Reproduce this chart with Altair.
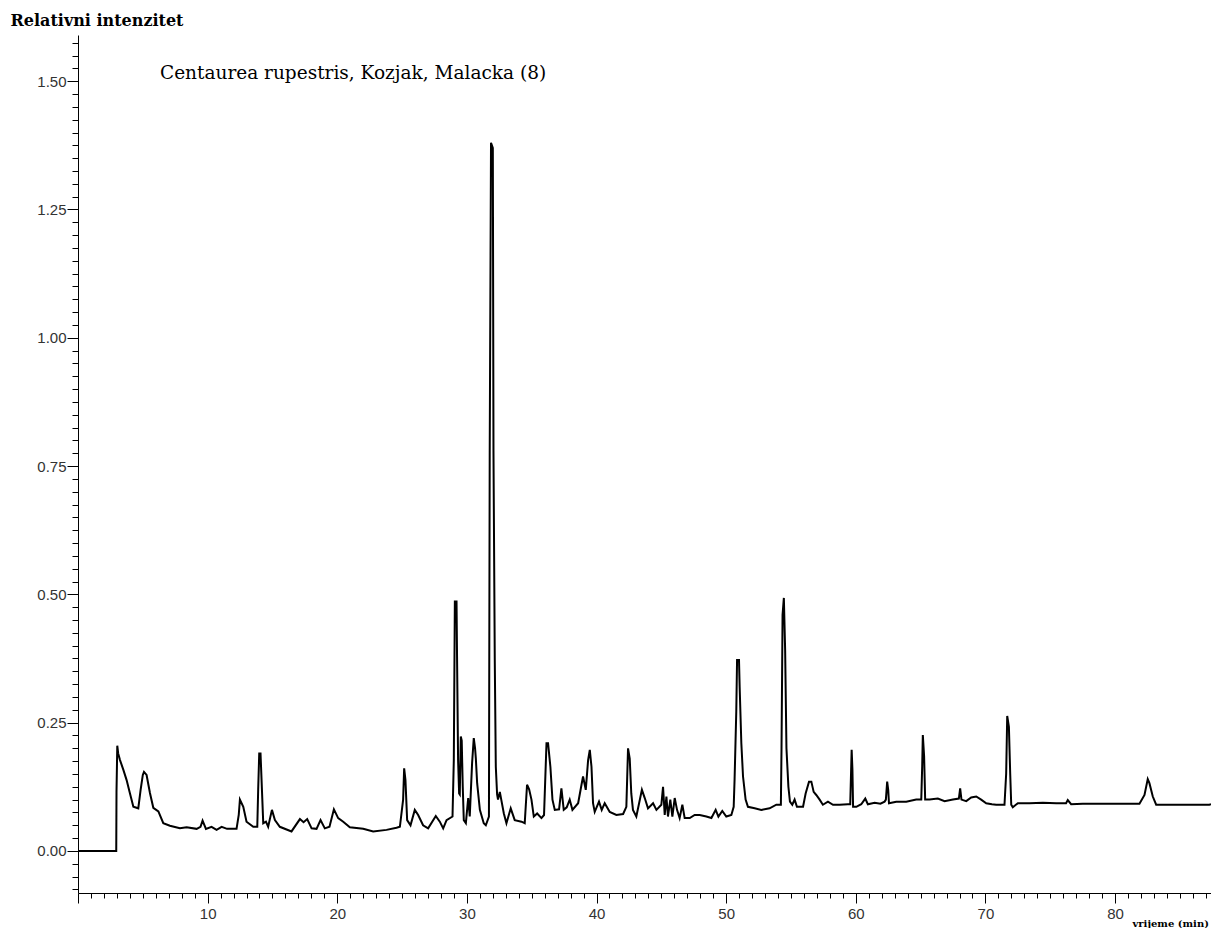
import altair as alt
import pandas as pd

# retention time (min)
time_min = [
    0.0, 2.95, 2.97, 3.03, 3.1, 3.24, 3.5, 3.75, 4.0, 4.27, 4.65, 4.83, 5.0, 5.09, 5.29, 5.55, 5.81,
    6.2, 6.58, 7.09, 7.86, 8.38, 9.15, 9.45, 9.61, 9.87, 10.3, 10.69, 11.08, 11.5, 12.23, 12.4, 12.49,
    12.75, 13.0, 13.52, 13.83, 13.9, 13.98, 14.08, 14.16, 14.29, 14.5, 14.67, 14.96, 15.19, 15.57,
    16.47, 17.12, 17.4, 17.68, 18.02, 18.4, 18.71, 19.04, 19.4, 19.74, 20.07, 20.46, 20.97, 22.0,
    22.77, 23.8, 24.57, 24.83, 25.08, 25.16, 25.26, 25.39, 25.65, 25.98, 26.24, 26.62, 27.01, 27.6,
    27.91, 28.17, 28.43, 28.89, 28.99, 29.07, 29.2, 29.24, 29.32, 29.4, 29.45, 29.53, 29.6, 29.68,
    29.76, 29.92, 30.1, 30.22, 30.4, 30.53, 30.63, 30.69, 30.79, 31.0, 31.3, 31.46, 31.7, 31.76,
    31.86, 32.0, 32.05, 32.15, 32.23, 32.33, 32.4, 32.54, 32.65, 32.85, 33.05, 33.38, 33.69, 34.21,
    34.46, 34.64, 34.8, 34.98, 35.16, 35.42, 35.75, 35.95, 36.14, 36.26, 36.44, 36.6, 36.78, 37.11,
    37.29, 37.47, 37.7, 37.93, 38.14, 38.58, 38.84, 38.96, 39.17, 39.35, 39.48, 39.61, 39.73, 39.86,
    40.19, 40.4, 40.63, 41.02, 41.53, 42.05, 42.3, 42.43, 42.56, 42.68, 42.81, 43.07, 43.5, 43.72,
    43.97, 44.36, 44.62, 45.0, 45.13, 45.26, 45.39, 45.51, 45.69, 45.85, 46.03, 46.21, 46.41, 46.62,
    46.8, 47.19, 47.57, 47.96, 48.47, 48.86, 49.19, 49.4, 49.7, 50.01, 50.4, 50.58, 50.65, 50.78,
    50.84, 50.99, 51.04, 51.17, 51.3, 51.5, 51.68, 52.2, 52.71, 53.35, 53.87, 54.22, 54.27, 54.35,
    54.45, 54.55, 54.65, 54.8, 54.92, 55.1, 55.28, 55.46, 55.93, 56.13, 56.39, 56.57, 56.75, 56.95,
    57.21, 57.46, 57.85, 58.24, 58.75, 59.39, 59.57, 59.68, 59.74, 59.79, 60.04, 60.42, 60.73, 60.93,
    61.45, 61.9, 62.22, 62.32, 62.42, 62.5, 62.56, 63.12, 63.89, 64.66, 65.05, 65.12, 65.17, 65.27,
    65.35, 65.69, 66.33, 66.85, 67.49, 67.95, 68.05, 68.15, 68.52, 68.9, 69.29, 69.67, 70.06, 70.5,
    70.83, 71.39, 71.47, 71.6, 71.68, 71.81, 71.91, 71.99, 72.11, 72.5, 73.4, 74.43, 75.46, 76.22,
    76.35, 76.61, 77.51, 78.41, 79.57, 80.85, 81.88, 82.27, 82.52, 82.65, 82.91, 83.17, 83.94, 85.22,
    86.5, 87.27, 87.4,
]

# relative intensity
intensity = [
    0.0, 0.0, 0.115, 0.205, 0.19, 0.177, 0.158, 0.138, 0.113, 0.086, 0.083, 0.119, 0.148, 0.154, 0.148,
    0.113, 0.084, 0.077, 0.054, 0.049, 0.044, 0.046, 0.043, 0.047, 0.059, 0.043, 0.047, 0.041, 0.047,
    0.043, 0.043, 0.07, 0.1, 0.086, 0.057, 0.047, 0.047, 0.12, 0.19, 0.19, 0.138, 0.054, 0.057, 0.047,
    0.08, 0.06, 0.047, 0.038, 0.062, 0.056, 0.062, 0.044, 0.043, 0.06, 0.044, 0.047, 0.081, 0.064,
    0.057, 0.046, 0.043, 0.038, 0.041, 0.045, 0.047, 0.1, 0.161, 0.138, 0.06, 0.05, 0.08, 0.07, 0.05,
    0.044, 0.068, 0.057, 0.044, 0.06, 0.067, 0.177, 0.486, 0.486, 0.379, 0.177, 0.112, 0.11, 0.223,
    0.215, 0.125, 0.06, 0.054, 0.103, 0.067, 0.171, 0.22, 0.2, 0.18, 0.132, 0.08, 0.054, 0.05, 0.067,
    0.78, 1.38, 1.37, 0.78, 0.372, 0.164, 0.11, 0.1, 0.115, 0.1, 0.073, 0.054, 0.083, 0.06, 0.057,
    0.054, 0.129, 0.12, 0.1, 0.067, 0.073, 0.064, 0.07, 0.21, 0.21, 0.164, 0.1, 0.08, 0.081, 0.122,
    0.08, 0.085, 0.1, 0.08, 0.093, 0.129, 0.145, 0.119, 0.177, 0.197, 0.164, 0.093, 0.076, 0.096,
    0.08, 0.093, 0.076, 0.07, 0.072, 0.086, 0.2, 0.18, 0.112, 0.08, 0.067, 0.119, 0.103, 0.083, 0.093,
    0.08, 0.09, 0.125, 0.07, 0.106, 0.067, 0.1, 0.067, 0.103, 0.08, 0.064, 0.09, 0.064, 0.064, 0.07,
    0.07, 0.067, 0.064, 0.08, 0.067, 0.078, 0.067, 0.07, 0.086, 0.14, 0.272, 0.372, 0.372, 0.32, 0.21,
    0.145, 0.1, 0.086, 0.083, 0.08, 0.083, 0.09, 0.09, 0.2, 0.46, 0.493, 0.39, 0.2, 0.125, 0.096, 0.09,
    0.1, 0.086, 0.086, 0.112, 0.135, 0.135, 0.115, 0.109, 0.1, 0.09, 0.096, 0.09, 0.09, 0.091, 0.091,
    0.197, 0.158, 0.086, 0.086, 0.091, 0.102, 0.091, 0.094, 0.092, 0.096, 0.1, 0.135, 0.119, 0.093,
    0.096, 0.096, 0.1, 0.1, 0.164, 0.226, 0.184, 0.1, 0.1, 0.102, 0.097, 0.1, 0.102, 0.122, 0.1, 0.097,
    0.104, 0.106, 0.1, 0.093, 0.091, 0.09, 0.09, 0.09, 0.151, 0.263, 0.242, 0.151, 0.09, 0.085, 0.093,
    0.093, 0.094, 0.093, 0.093, 0.099, 0.091, 0.092, 0.092, 0.092, 0.092, 0.092, 0.109, 0.14, 0.132,
    0.106, 0.09, 0.09, 0.09, 0.09, 0.09, 0.091,
]

x_tick_values = list(range(0, 88))
y_tick_values = [round(-0.075 + 0.025 * i, 3) for i in range(67)]

df = pd.DataFrame({"t": time_min, "v": intensity})

label_font = "Liberation Sans"
serif = "DejaVu Serif"

x_axis = alt.Axis(
    values=x_tick_values,
    labelExpr="(datum.value % 10 == 0 && datum.value > 0) ? format(datum.value, 'd') : ''",
    labelOverlap=False,
    labelFlush=False,
    grid=False,
    domainColor="black",
    tickColor="black",
    tickSize={"condition": {"test": "datum.value % 10 == 0", "value": 10}, "value": 5},
    labelFont=label_font,
    labelFontSize=15,
    labelColor="#333333",
    labelPadding=3,
    title="vrijeme (min)",
    titleFont=serif,
    titleFontSize=10,
    titleFontWeight="bold",
    titleColor="black",
    titleAlign="left",
    titleBaseline="alphabetic",
    titleAnchor="start",
    titleX=1054,
    titleY=33,
)

y_axis = alt.Axis(
    values=y_tick_values,
    labelExpr="abs(datum.value * 4 - round(datum.value * 4)) < 0.001 ? format(datum.value, '.2f') : ''",
    labelOverlap=False,
    labelFlush=False,
    grid=False,
    domainColor="black",
    tickColor="black",
    tickSize={"condition": {"test": "abs(datum.value * 4 - round(datum.value * 4)) < 0.001", "value": 11}, "value": 6},
    labelFont=label_font,
    labelFontSize=15,
    labelColor="#333333",
    labelPadding=1,
    title="Relativni intenzitet",
    titleFont=serif,
    titleFontSize=16,
    titleFontWeight="bold",
    titleColor="black",
    titleAngle=0,
    titleAlign="left",
    titleBaseline="alphabetic",
    titleX=-68,
    titleY=-10,
)

chart = (
    alt.Chart(df)
    .mark_line(color="black", strokeWidth=2)
    .encode(
        x=alt.X("t:Q", scale=alt.Scale(domain=[0, 87.4], nice=False, zero=False), axis=x_axis),
        y=alt.Y("v:Q", scale=alt.Scale(domain=[-0.082, 1.59], nice=False, zero=False), axis=y_axis),
    )
    .properties(
        width=1133,
        height=858,
        background="white",
        autosize=alt.AutoSizeParams(type="none"),
        padding={"left": 70, "top": 27, "right": 0, "bottom": 35},
        title=alt.TitleParams(
            text="Centaurea rupestris, Kozjak, Malacka (8)",
            anchor="start",
            frame="group",
            orient="top",
            offset=0,
            dx=82,
            dy=85,
            baseline="alphabetic",
            font=serif,
            fontSize=18.5,
            fontWeight="normal",
            color="black",
        ),
    )
    .configure_view(stroke="transparent", strokeWidth=0)
)

chart.save("out.html", embed_options={"renderer": "svg", "actions": False})
